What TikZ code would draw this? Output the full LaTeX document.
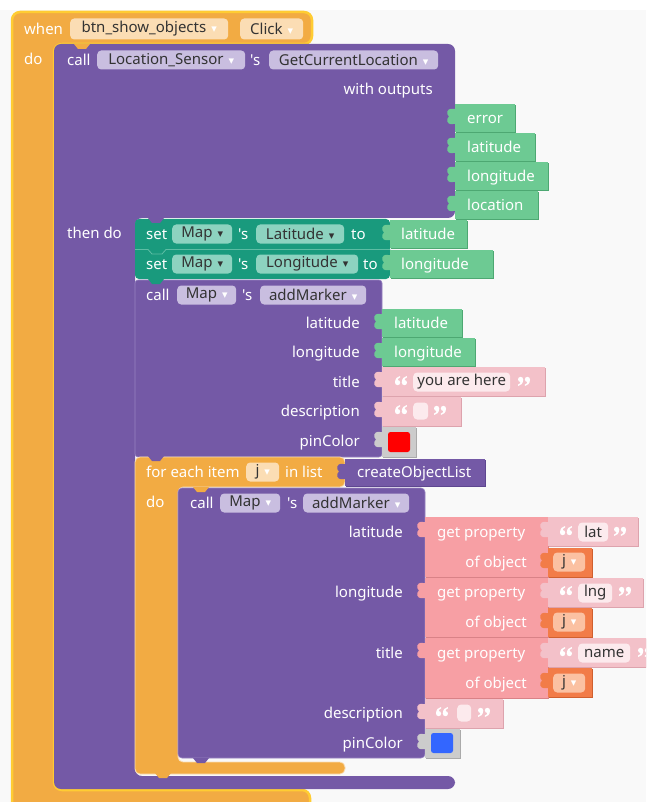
\documentclass[tikz,border=0pt]{standalone}
\usepackage{fontspec}
\newfontfamily\blkfont{Noto Sans}
\newfontfamily\symfont{DejaVu Sans}
\newcommand\blk{\blkfont\fontsize{15}{18}\selectfont}
\newcommand\dd[1][white]{\hspace{5pt}{\symfont\fontsize{11}{11}\selectfont\textcolor{#1}{▾}}}

\definecolor{evt}{HTML}{F2AB43}
\definecolor{evtline}{HTML}{FFCC33}
\definecolor{evtfld}{HTML}{FBDDB4}
\definecolor{proc}{HTML}{7459A6}
\definecolor{procdk}{HTML}{5E4790}
\definecolor{procline}{HTML}{9682C2}
\definecolor{procfld}{HTML}{C9BEE0}
\definecolor{setc}{HTML}{199A7D}
\definecolor{setline}{HTML}{5DBDA4}
\definecolor{setfld}{HTML}{8DD3C0}
\definecolor{getc}{HTML}{6DCA93}
\definecolor{getdk}{HTML}{4DA872}
\definecolor{txtc}{HTML}{F3C1C9}
\definecolor{txtdk}{HTML}{DDA3AD}
\definecolor{txtfld}{HTML}{FCEAED}
\definecolor{propc}{HTML}{F79FA4}
\definecolor{propdk}{HTML}{D98287}
\definecolor{varc}{HTML}{F27C48}
\definecolor{vardk}{HTML}{D0602F}
\definecolor{varfld}{HTML}{FBC1A2}
\definecolor{clrc}{HTML}{CCCCCC}
\definecolor{clrdk}{HTML}{AAAAAA}
\definecolor{pinblue}{HTML}{3366FF}
\definecolor{bg}{HTML}{F9F9F9}
\definecolor{ink}{HTML}{333333}

% value plug on the left of an output block
\newcommand{\puzzletab}[3]{%
  \fill[#3] (#1+1,#2+5) -- (#1-2,#2+5) .. controls (#1-9,#2+4) and (#1-9,#2+10) .. (#1-6,#2+12.5)
    .. controls (#1-9,#2+15) and (#1-9,#2+21) .. (#1-2,#2+20) -- (#1+1,#2+20) -- cycle;}
% output block: x1, y1, x2, y2, fill, shade
\newcommand{\valbox}[6]{%
  \fill[#6] (#1+1,#2+1) rectangle (#3+1,#4+1);
  \fill[#5] (#1,#2) rectangle (#3,#4);
  \puzzletab{#1}{#2}{#5}}
% statement notch
\newcommand{\nexttab}[3]{%
  \fill[#3] (#1,#2) -- (#1+4,#2+5) -- (#1+12,#2+5) -- (#1+16,#2) -- cycle;}
% quote marks of a text block (left edge, centre line)
\newcommand{\qsix}[2]{%
  \fill[white] (#1,#2+1.6) circle[radius=2.6];
  \fill[white] (#1-2.6,#2+1.8) .. controls (#1-2.6,#2-2.5) and (#1-0.5,#2-4.5) .. (#1+2.4,#2-5)
    -- (#1+2.6,#2-3.6) .. controls (#1+0.8,#2-3) and (#1-0.2,#2-1.6) .. (#1+0.2,#2-0.9) -- cycle;}
\newcommand{\qopen}[2]{\qsix{#1+2.6}{#2}\qsix{#1+9.4}{#2}}
\newcommand{\qclose}[2]{\begin{scope}[rotate around={180:(#1+6,#2)}]\qopen{#1}{#2}\end{scope}}

\tikzset{
  lbl/.style={text=white, anchor=mid west, inner sep=0pt, yshift=-3pt, font=\blk},
  lblr/.style={lbl, anchor=mid east},
  fld/.style={anchor=west, rounded corners=4, minimum height=19, inner sep=0pt, text=ink, font=\blk},
  swatch/.style={rounded corners=2.5, minimum width=22, minimum height=20, inner sep=0pt},
}

\begin{document}
\begin{tikzpicture}[x=1pt,y=-1pt]
\useasboundingbox (0,0) rectangle (646,802);
\clip (0,0) rectangle (646,802);
\fill[white] (0,0) rectangle (646,802);
\fill[bg] (0,10) rectangle (646,802);

% when btn_show_objects.Click
\draw[evtline, line width=2.5, fill=evt, rounded corners=8] (12,12) -- (312,12) -- (312,44) -- (54,44)
  -- (54,790) -- (310,790) -- (310,812) -- (12,812) -- cycle;
\node[lbl] (when) at (24,29) {when};
\node[fld, fill=evtfld, minimum width=158, minimum height=21] (fBtn) at (70,29) {btn\_show\_objects\dd};
\node[fld, fill=evtfld, minimum width=63, minimum height=21] (fClick) at (240,29) {Click\dd};
\node[lbl] (doA) at (24,59) {do};

% call Location_Sensor.GetCurrentLocation
\fill[proc, rounded corners=7] (54,44) -- (455,44) -- (455,218) -- (135,218) -- (135,776) -- (455,776)
  -- (455,789) -- (54,789) -- cycle;
\nexttab{74}{44}{evt}
\node[lbl] (callA) at (67,60) {call};
\node[fld, fill=procfld, minimum width=148] (fSensor) at (97,60) {Location\_Sensor\dd};
\node[lbl] (sA) at (250,60) {'s};
\node[fld, fill=procfld, minimum width=169] (fGetLoc) at (269,60) {GetCurrentLocation\dd};
\node[lblr] (withOut) at (433,89) {with outputs};
\valbox{455}{104}{515}{132}{getc}{getdk}
\node[lbl] (outErr) at (467,118) {error};
\valbox{455}{133}{535}{161}{getc}{getdk}
\node[lbl] (outLat) at (467,147) {latitude};
\valbox{455}{162}{548}{190}{getc}{getdk}
\node[lbl] (outLng) at (467,176) {longitude};
\valbox{455}{191}{538}{219}{getc}{getdk}
\node[lbl] (outLoc) at (467,205) {location};
\node[lbl] (thenDo) at (67,233) {then do};

% set Map.Latitude / Map.Longitude
\fill[setc, rounded corners=4] (135,219) rectangle (390,279);
\nexttab{148}{218}{proc}
\draw[setline, line width=0.8] (135,249.5) -- (148,249.5) -- (152,254) -- (162,254) -- (166,249.5) -- (390,249.5);
\node[lbl] (set1) at (146,234) {set};
\node[fld, fill=setfld, minimum width=60] (fMap1) at (172,234) {Map\dd[ink]};
\node[lbl] (s1) at (238,234) {'s};
\node[fld, fill=setfld, minimum width=88] (fLat) at (256,234) {Latitude\dd[ink]};
\node[lbl] (to1) at (351,234) {to};
\valbox{390}{220}{467}{248}{getc}{getdk}
\node[lbl] (vLat) at (401,234) {latitude};
\node[lbl] (set2) at (146,264) {set};
\node[fld, fill=setfld, minimum width=60] (fMap2) at (172,264) {Map\dd[ink]};
\node[lbl] (s2) at (238,264) {'s};
\node[fld, fill=setfld, minimum width=102] (fLng) at (256,264) {Longitude\dd[ink]};
\node[lbl] (to2) at (363,264) {to};
\valbox{390}{250}{493}{278}{getc}{getdk}
\node[lbl] (vLng) at (401,264) {longitude};

% call Map.addMarker (current position)
\draw[procline, fill=proc, line width=0.6, rounded corners=3] (135,280) rectangle (382,457);
\nexttab{148}{279}{setc}
\node[lbl] (callB) at (146,295) {call};
\node[fld, fill=procfld, minimum width=59] (fMapB) at (177,295) {Map\dd};
\node[lbl] (sB) at (242,295) {'s};
\node[fld, fill=procfld, minimum width=106] (fAddB) at (260,295) {addMarker\dd};
\node[lblr] (pLatB) at (360,323) {latitude};
\node[lblr] (pLngB) at (360,352) {longitude};
\node[lblr] (pTitleB) at (360,382) {title};
\node[lblr] (pDescB) at (360,411) {description};
\node[lblr] (pColB) at (360,441) {pinColor};
\valbox{382}{309}{462}{337}{getc}{getdk}
\node[lbl] (vLatB) at (394,323) {latitude};
\valbox{382}{338}{475}{366}{getc}{getdk}
\node[lbl] (vLngB) at (394,352) {longitude};
\valbox{382}{367}{545}{396}{txtc}{txtdk}
\qopen{395}{381}
\node[fld, fill=txtfld, minimum width=97] (fHere) at (413,382) {you are here};
\qclose{518}{381}
\valbox{382}{397}{461}{426}{txtc}{txtdk}
\qopen{395}{410}
\node[fld, fill=txtfld, minimum width=15, minimum height=17] (fDesc) at (413,411) {};
\qclose{434}{410}
\valbox{382}{427}{416}{457}{clrc}{clrdk}
\node[swatch, fill=red] (cRed) at (399,442) {};

% for each item j in list
\draw[evt!40!white, line width=0.8, fill=evt, rounded corners=5] (135,457) -- (345,457) -- (345,487) -- (178,487)
  -- (178,762) -- (345,762) -- (345,774) -- (135,774) -- cycle;
\nexttab{148}{456}{proc}
\nexttab{155}{773}{evt}
\node[lbl] (forEach) at (146,472) {for each item};
\node[fld, fill=evtfld, minimum width=33] (fJ) at (246,472) {j\dd};
\node[lbl] (inList) at (285,472) {in list};
\valbox{345}{459}{485}{486}{proc}{procdk}
\node[lbl] (vList) at (357,472) {createObjectList};
\node[lbl] (doB) at (146,502) {do};

% call Map.addMarker (each object)
\draw[procline, fill=proc, line width=0.6, rounded corners=4] (178,488) rectangle (425,758);
\nexttab{193}{487}{evt}
\nexttab{193}{758}{proc}
\node[lbl] (callC) at (190,503) {call};
\node[fld, fill=procfld, minimum width=60] (fMapC) at (220,503) {Map\dd};
\node[lbl] (sC) at (287,503) {'s};
\node[fld, fill=procfld, minimum width=106] (fAddC) at (303,503) {addMarker\dd};
\node[lblr] (pLatC) at (403,532) {latitude};
\node[lblr] (pLngC) at (403,592) {longitude};
\node[lblr] (pTitleC) at (403,653) {title};
\node[lblr] (pDescC) at (403,713) {description};
\node[lblr] (pColC) at (403,743) {pinColor};

% get property lat
\valbox{425}{517}{548}{577}{propc}{propdk}
\node[lbl] (gpLat) at (437,532) {get property};
\node[lblr] (ooLat) at (527,562) {of object};
\valbox{548}{517}{638}{546}{txtc}{txtdk}
\qopen{560}{531}
\node[fld, fill=txtfld, minimum width=30] (fKeyLat) at (578,532) {lat};
\qclose{614}{531}
\valbox{548}{548}{592}{577}{varc}{vardk}
\node[fld, fill=varfld, minimum width=32] (fjLat) at (553,562) {j\dd};

% get property lng
\valbox{425}{578}{548}{637}{propc}{propdk}
\node[lbl] (gpLng) at (437,592) {get property};
\node[lblr] (ooLng) at (527,622) {of object};
\valbox{548}{578}{643}{607}{txtc}{txtdk}
\qopen{560}{591}
\node[fld, fill=txtfld, minimum width=34] (fKeyLng) at (578,593) {lng};
\qclose{619}{591}
\valbox{548}{608}{592}{637}{varc}{vardk}
\node[fld, fill=varfld, minimum width=32] (fjLng) at (553,622) {j\dd};

% get property name
\valbox{425}{638}{548}{698}{propc}{propdk}
\node[lbl] (gpName) at (437,653) {get property};
\node[lblr] (ooName) at (527,683) {of object};
\valbox{548}{638}{660}{667}{txtc}{txtdk}
\qopen{560}{652}
\node[fld, fill=txtfld, minimum width=52] (fKeyName) at (578,653) {name};
\qclose{638}{652}
\valbox{548}{668}{592}{697}{varc}{vardk}
\node[fld, fill=varfld, minimum width=32] (fjName) at (553,683) {j\dd};

% description and pinColor
\valbox{425}{699}{503}{728}{txtc}{txtdk}
\qopen{436}{712}
\node[fld, fill=txtfld, minimum width=14, minimum height=17] (fDescC) at (457,713) {};
\qclose{478}{712}
\valbox{425}{729}{460}{758}{clrc}{clrdk}
\node[swatch, fill=pinblue] (cBlue) at (442,743) {};
\end{tikzpicture}
\end{document}
